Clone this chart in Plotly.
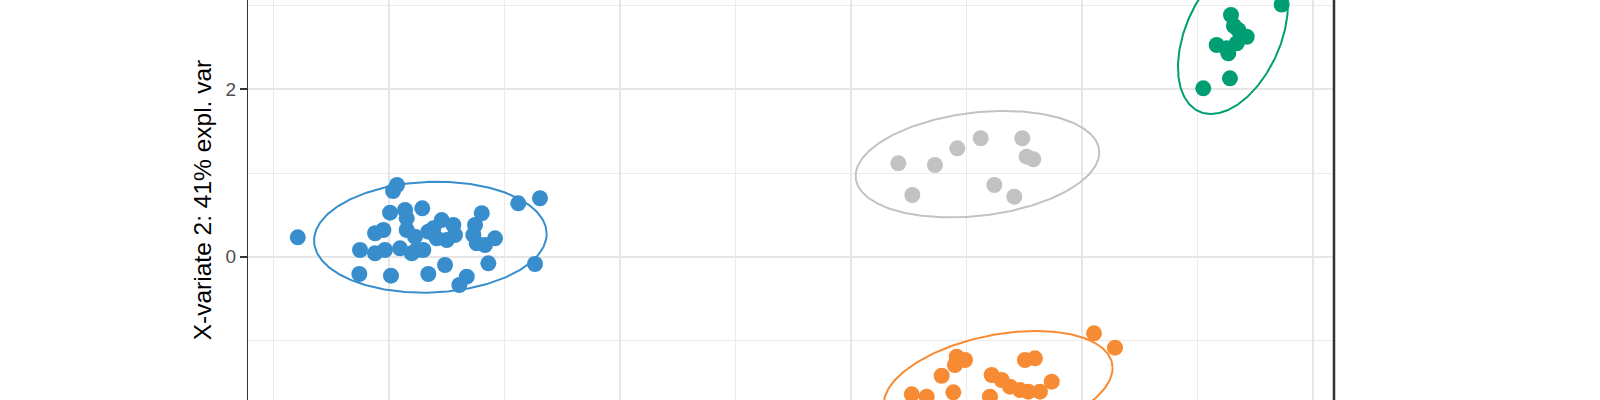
import numpy as np
import plotly.graph_objects as go

# sample scores per group (x-variate 1, x-variate 2)
blue_x = [-2.790, -1.965, -1.931, -1.991, -1.861, -1.847, -1.712, -2.121, -2.049, -1.847,
          -2.251, -2.121, -2.035, -1.905, -1.803, -1.775, -1.760, -1.703, -2.257, -1.983,
          -1.660, -1.515, -1.544, -1.616, -1.443, -1.500, -1.587, -1.429, -1.660, -1.197,
          -1.255, -1.270, -1.241, -1.169, -1.082, -1.140, -1.327, -1.391, -0.881, -0.693, -0.736]
blue_y = [0.232, 0.785, 0.857, 0.526, 0.558, 0.459, 0.578, 0.280, 0.319, 0.319,
          0.080, 0.041, 0.080, 0.100, 0.041, 0.239, 0.080, 0.080, -0.207, -0.227,
          -0.207, -0.099, 0.438, 0.339, 0.379, 0.200, 0.220, 0.259, 0.299, 0.519,
          0.379, 0.259, 0.160, 0.140, 0.220, -0.079, -0.239, -0.338, 0.638, 0.698, -0.087]

grey_x = [2.410, 2.727, 2.920, 3.123, 3.483, 3.521, 3.578, 2.531, 3.241, 3.414]
grey_y = [1.116, 1.096, 1.295, 1.415, 1.415, 1.195, 1.164, 0.737, 0.857, 0.717]

green_x = [5.729, 5.290, 5.316, 5.353, 5.426, 5.166, 5.253, 5.340, 5.267, 5.050, 5.281]
green_y = [3.013, 2.888, 2.756, 2.709, 2.628, 2.529, 2.490, 2.550, 2.430, 2.012, 2.131]

orange_x = [2.915, 2.987, 2.900, 2.785, 2.526, 2.655, 2.886, 3.506, 3.593, 3.218,
            3.305, 3.377, 3.463, 3.535, 3.636, 3.738, 3.203, 4.104, 4.286]
orange_y = [-1.195, -1.234, -1.294, -1.422, -1.644, -1.673, -1.620, -1.234, -1.214, -1.413,
            -1.473, -1.553, -1.593, -1.613, -1.613, -1.493, -1.673, -0.915, -1.087]

# ellipses: centre x, centre y, half-width, half-height, lean (y shift of rightmost point / half-height)
ell_blue = [-1.642, 0.233, 1.007, 0.663, 0.06]
ell_grey = [3.095, 1.105, 1.055, 0.636, 0.22]
ell_green = [5.307, 2.637, 0.476, 0.932, 0.40]
ell_orange = [3.274, -1.547, 0.991, 0.660, 0.33]

groups = [
    (blue_x, blue_y, ell_blue, "#388ECC"),
    (orange_x, orange_y, ell_orange, "#F68B33"),
    (grey_x, grey_y, ell_grey, "#C2C2C2"),
    (green_x, green_y, ell_green, "#009E73"),
]

t = np.linspace(0, 2 * np.pi, 300)

fig = go.Figure()
for xs, ys, ell, col in groups:
    cx, cy, w, h, lean = ell
    ex = cx + w * np.cos(t)
    ey = cy + h * (lean * np.cos(t) + np.sqrt(1 - lean ** 2) * np.sin(t))
    fig.add_trace(go.Scatter(x=ex, y=ey, mode="lines",
                             line=dict(color=col, width=2), hoverinfo="skip"))
for xs, ys, ell, col in groups:
    fig.add_trace(go.Scatter(x=xs, y=ys, mode="markers",
                             marker=dict(color=col, size=16, line=dict(width=0))))

# right-hand panel border
fig.add_shape(type="line", xref="paper", yref="paper", x0=1, x1=1, y0=0, y1=1,
              line=dict(color="#333333", width=2.5))

fig.update_layout(
    width=1600, height=400,
    margin=dict(l=248, r=266, t=0, b=0),
    plot_bgcolor="white", paper_bgcolor="white",
    showlegend=False,
    font=dict(family="Liberation Sans, Arial, sans-serif"),
    xaxis=dict(
        range=[-3.221, 6.182], tick0=0, dtick=2,
        showticklabels=False, ticks="", zeroline=False, showline=False,
        gridcolor="#E6E6E6", gridwidth=1.5,
        minor=dict(dtick=1, showgrid=True, gridcolor="#EBEBEB", gridwidth=1.2),
    ),
    yaxis=dict(
        range=[-1.712, 3.067], tick0=0, dtick=2,
        zeroline=False, showline=True, linecolor="#333333", linewidth=1,
        ticks="outside", ticklen=7, tickwidth=2, tickcolor="#333333",
        tickfont=dict(size=19, color="#4D4D4D"),
        gridcolor="#E6E6E6", gridwidth=1.5,
        minor=dict(dtick=1, showgrid=True, gridcolor="#EBEBEB", gridwidth=1.2),
        title=dict(text="X-variate 2: 41% expl. var", font=dict(size=24.5, color="black"),
                   standoff=7),
    ),
)

fig.write_html("out.html", config={"displayModeBar": False},
               post_script="document.body.style.margin='0';")
